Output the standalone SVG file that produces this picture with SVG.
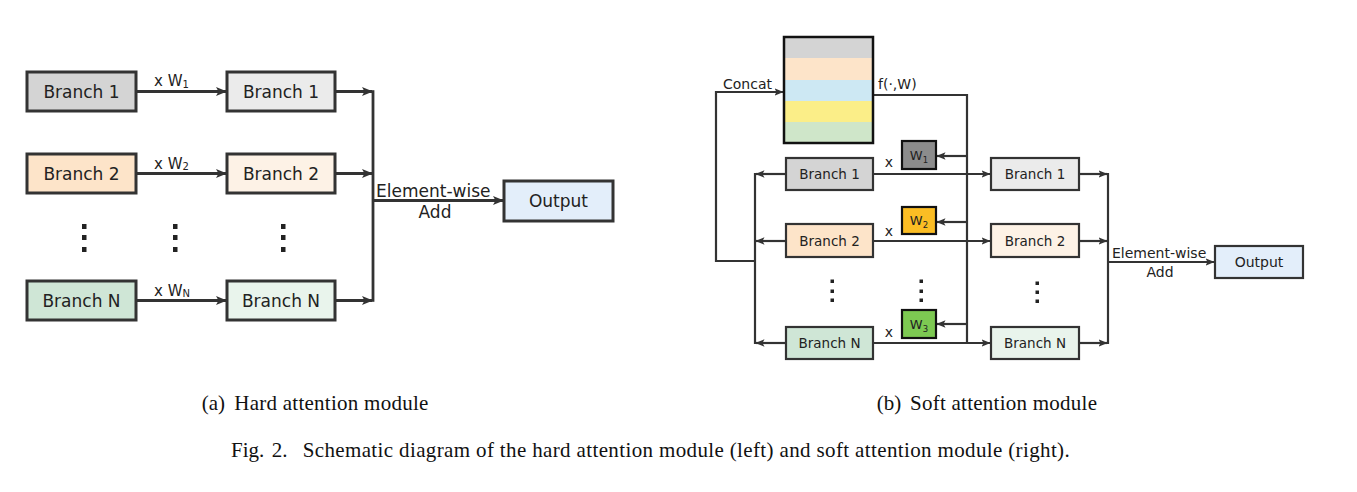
<svg xmlns="http://www.w3.org/2000/svg" width="1357" height="492" viewBox="0 0 1357 492">
<style>
.t{font-family:"DejaVu Sans",sans-serif;fill:#222}
.tl{font-size:17px}
.tr{font-size:13.5px}
.ts{font-size:14px}
.bl{stroke:#333;stroke-width:3}
.br{stroke:#333;stroke-width:2.2}
.ll{fill:none;stroke:#333;stroke-width:2.8}
.lr{fill:none;stroke:#333;stroke-width:2.2}
.cap{font-family:"Liberation Serif","Times New Roman",serif;font-size:21px;fill:#111}
.dot{fill:#222}
</style>
<defs>
<marker id="al" viewBox="0 0 11 10" markerWidth="11" markerHeight="10" refX="10" refY="5" orient="auto" markerUnits="userSpaceOnUse">
<path d="M0,0.5 L11,5 L0,9.5 L2.5,5 z" fill="#333"/>
</marker>
<marker id="ar" viewBox="0 0 9 8" markerWidth="9" markerHeight="8" refX="8.5" refY="4" orient="auto" markerUnits="userSpaceOnUse">
<path d="M0,0.3 L9,4 L0,7.7 L2,4 z" fill="#333"/>
</marker>
</defs>
<rect width="1357" height="492" fill="#ffffff"/>

<!-- connectors -->
<g id="connectors">
<path class="ll" d="M136,91.5 H226" marker-end="url(#al)"/>
<path class="ll" d="M136,173.5 H226" marker-end="url(#al)"/>
<path class="ll" d="M136,300.5 H226" marker-end="url(#al)"/>
<path class="ll" d="M335,91.5 H372" marker-end="url(#al)"/>
<path class="ll" d="M335,173.5 H372" marker-end="url(#al)"/>
<path class="ll" d="M335,300.5 H372" marker-end="url(#al)"/>
<path class="ll" d="M373,90.2 V301.8"/>
<path class="ll" d="M373,200.5 H503" marker-end="url(#al)"/>

<path class="lr" d="M755,261 H716 V92 H783" marker-end="url(#ar)"/>
<path class="lr" d="M873,95 H967 V343"/>
<path class="lr" d="M967,156 H937" marker-end="url(#ar)"/>
<path class="lr" d="M967,222 H937" marker-end="url(#ar)"/>
<path class="lr" d="M967,324 H937" marker-end="url(#ar)"/>
<path class="lr" d="M786,174 H756" marker-end="url(#ar)"/>
<path class="lr" d="M786,241 H756" marker-end="url(#ar)"/>
<path class="lr" d="M786,343 H756" marker-end="url(#ar)"/>
<path class="lr" d="M755,173 V344"/>
<path class="lr" d="M873,174 H990" marker-end="url(#ar)"/>
<path class="lr" d="M873,241 H990" marker-end="url(#ar)"/>
<path class="lr" d="M873,343 H990" marker-end="url(#ar)"/>
<path class="lr" d="M1079,174 H1107" marker-end="url(#ar)"/>
<path class="lr" d="M1079,241 H1107" marker-end="url(#ar)"/>
<path class="lr" d="M1079,343 H1107" marker-end="url(#ar)"/>
<path class="lr" d="M1108,173 V344"/>
<path class="lr" d="M1108,262 H1214" marker-end="url(#ar)"/>
</g>

<!-- connector labels -->
<g id="labels">
<text class="t" x="154" y="86" font-size="15">x W<tspan font-size="10" dy="1.5">1</tspan></text>
<text class="t" x="154" y="168.5" font-size="15">x W<tspan font-size="10" dy="1.5">2</tspan></text>
<text class="t" x="154" y="295.5" font-size="15">x W<tspan font-size="10" dy="1.5">N</tspan></text>
<text class="t tl" x="376" y="196.5">Element-wise</text>
<text class="t tl" x="435" y="218" text-anchor="middle">Add</text>
<text class="t ts" x="723" y="89">Concat</text>
<text class="t ts" x="878" y="89">f(·,W)</text>
<text class="t ts" x="889" y="167" text-anchor="middle">x</text>
<text class="t ts" x="889" y="236" text-anchor="middle">x</text>
<text class="t ts" x="889" y="337" text-anchor="middle">x</text>
<text class="t ts" x="1112" y="258">Element-wise</text>
<text class="t ts" x="1160" y="277" text-anchor="middle">Add</text>
</g>

<!-- hard attention nodes -->
<g id="hard-branch1-in"><rect class="bl" x="27" y="72" width="109" height="39" fill="#d4d4d4"/><text class="t tl" x="81.5" y="98" text-anchor="middle">Branch 1</text></g>
<g id="hard-branch1-out"><rect class="bl" x="227" y="72" width="108" height="39" fill="#ebebeb"/><text class="t tl" x="281" y="98" text-anchor="middle">Branch 1</text></g>
<g id="hard-branch2-in"><rect class="bl" x="27" y="154" width="109" height="39" fill="#fde4c9"/><text class="t tl" x="81.5" y="180" text-anchor="middle">Branch 2</text></g>
<g id="hard-branch2-out"><rect class="bl" x="227" y="154" width="108" height="39" fill="#fdf2e6"/><text class="t tl" x="281" y="180" text-anchor="middle">Branch 2</text></g>
<g id="hard-branchN-in"><rect class="bl" x="27" y="281" width="109" height="39" fill="#cfe6d6"/><text class="t tl" x="81.5" y="307" text-anchor="middle">Branch N</text></g>
<g id="hard-branchN-out"><rect class="bl" x="227" y="281" width="108" height="39" fill="#e9f4ec"/><text class="t tl" x="281" y="307" text-anchor="middle">Branch N</text></g>
<g id="hard-output"><rect class="bl" x="504" y="181" width="109" height="40" fill="#e3eefa"/><text class="t tl" x="558.5" y="207" text-anchor="middle">Output</text></g>
<g id="hard-dots">
<rect class="dot" x="82" y="224" width="4.5" height="5"/><rect class="dot" x="82" y="235" width="4.5" height="5"/><rect class="dot" x="82" y="247" width="4.5" height="5"/>
<rect class="dot" x="173" y="224" width="4.5" height="5"/><rect class="dot" x="173" y="235" width="4.5" height="5"/><rect class="dot" x="173" y="247" width="4.5" height="5"/>
<rect class="dot" x="281" y="224" width="4.5" height="5"/><rect class="dot" x="281" y="235" width="4.5" height="5"/><rect class="dot" x="281" y="247" width="4.5" height="5"/>
</g>

<!-- soft attention nodes -->
<g id="soft-concat-stack">
<rect x="784" y="37" width="89" height="21" fill="#d4d4d4"/>
<rect x="784" y="58" width="89" height="22" fill="#fde4c9"/>
<rect x="784" y="80" width="89" height="21" fill="#cde8f3"/>
<rect x="784" y="101" width="89" height="21" fill="#fbee88"/>
<rect x="784" y="122" width="89" height="21" fill="#cfe6c9"/>
<rect x="784" y="37" width="89" height="106" fill="none" stroke="#111" stroke-width="2.5"/>
</g>
<g id="soft-w1"><rect x="902" y="141" width="34" height="28" fill="#8c8c8c" stroke="#111" stroke-width="2.2"/><text class="t" x="919" y="160" font-size="13" text-anchor="middle">W<tspan font-size="8.5" dy="2.5">1</tspan></text></g>
<g id="soft-w2"><rect x="902" y="207" width="34" height="27" fill="#fbbd24" stroke="#111" stroke-width="2.2"/><text class="t" x="919" y="225" font-size="13" text-anchor="middle">W<tspan font-size="8.5" dy="2.5">2</tspan></text></g>
<g id="soft-w3"><rect x="902" y="310" width="34" height="28" fill="#7dc952" stroke="#111" stroke-width="2.2"/><text class="t" x="919" y="329" font-size="13" text-anchor="middle">W<tspan font-size="8.5" dy="2.5">3</tspan></text></g>
<g id="soft-branch1-in"><rect class="br" x="786" y="158" width="87" height="32" fill="#d4d4d4"/><text class="t tr" x="829.5" y="179" text-anchor="middle">Branch 1</text></g>
<g id="soft-branch2-in"><rect class="br" x="786" y="224" width="87" height="33" fill="#fde4c9"/><text class="t tr" x="829.5" y="246" text-anchor="middle">Branch 2</text></g>
<g id="soft-branchN-in"><rect class="br" x="786" y="327" width="87" height="32" fill="#cfe6d6"/><text class="t tr" x="829.5" y="348" text-anchor="middle">Branch N</text></g>
<g id="soft-branch1-out"><rect class="br" x="991" y="158" width="88" height="32" fill="#ebebeb"/><text class="t tr" x="1035" y="179" text-anchor="middle">Branch 1</text></g>
<g id="soft-branch2-out"><rect class="br" x="991" y="224" width="88" height="33" fill="#fdf2e6"/><text class="t tr" x="1035" y="246" text-anchor="middle">Branch 2</text></g>
<g id="soft-branchN-out"><rect class="br" x="991" y="327" width="88" height="32" fill="#e9f4ec"/><text class="t tr" x="1035" y="348" text-anchor="middle">Branch N</text></g>
<g id="soft-output"><rect class="br" x="1215" y="246" width="88" height="32" fill="#e3eefa"/><text class="t ts" x="1259" y="267" text-anchor="middle">Output</text></g>
<g id="soft-dots">
<rect class="dot" x="830.5" y="279.5" width="3.5" height="3.5"/><rect class="dot" x="830.5" y="289.5" width="3.5" height="3.5"/><rect class="dot" x="830.5" y="298.5" width="3.5" height="3.5"/>
<rect class="dot" x="919.5" y="279.5" width="3.5" height="3.5"/><rect class="dot" x="919.5" y="289.5" width="3.5" height="3.5"/><rect class="dot" x="919.5" y="298.5" width="3.5" height="3.5"/>
<rect class="dot" x="1035.5" y="281.5" width="3.5" height="3.5"/><rect class="dot" x="1035.5" y="290.5" width="3.5" height="3.5"/><rect class="dot" x="1035.5" y="299.5" width="3.5" height="3.5"/>
</g>

<!-- captions -->
<g id="captions">
<text class="cap" x="201.7" y="410">(a)</text>
<text class="cap" x="234.3" y="410" textLength="194" lengthAdjust="spacing">Hard attention module</text>
<text class="cap" x="876.7" y="410">(b)</text>
<text class="cap" x="910" y="410" textLength="187" lengthAdjust="spacing">Soft attention module</text>
<text class="cap" x="231" y="457">Fig.</text>
<text class="cap" x="271.7" y="457">2.</text>
<text class="cap" x="302.7" y="457" textLength="767" lengthAdjust="spacing">Schematic diagram of the hard attention module (left) and soft attention module (right).</text>
</g>
</svg>
